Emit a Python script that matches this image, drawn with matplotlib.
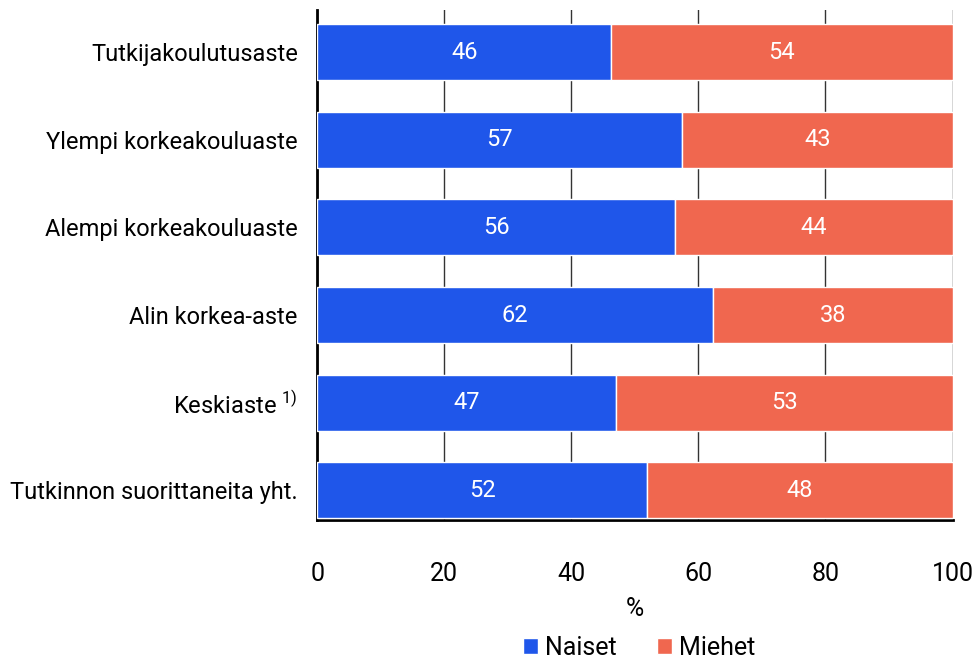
import matplotlib.pyplot as plt

tasot = [
    "Tutkinnon suorittaneita yht.",
    "Keskiaste $^{1)}$",
    "Alin korkea-aste",
    "Alempi korkeakouluaste",
    "Ylempi korkeakouluaste",
    "Tutkijakoulutusaste",
]
naiset = [51.9, 47.1, 62.3, 56.3, 57.4, 46.3]
miehet = [48.1, 52.9, 37.7, 43.7, 42.6, 53.7]

sininen = "#1f56ea"
punainen = "#f0674f"

plt.rcParams["font.family"] = ["Roboto", "DejaVu Sans"]
plt.rcParams["mathtext.fontset"] = "custom"
plt.rcParams["mathtext.rm"] = "Roboto"

fig = plt.figure(figsize=(9.79, 6.61), dpi=100)
ax = fig.add_axes([0.324, 0.213, 0.649, 0.772])

y = range(len(tasot))
ax.barh(y, naiset, height=0.64, color=sininen, edgecolor="white", linewidth=1, label="Naiset", zorder=3)
ax.barh(y, miehet, left=naiset, height=0.64, color=punainen, edgecolor="white", linewidth=1, label="Miehet", zorder=3)

for i in y:
    ax.text(naiset[i] / 2, i, f"{naiset[i]:.0f}", color="white", ha="center", va="center",
            fontsize=17, zorder=4)
    ax.text(naiset[i] + miehet[i] / 2, i, f"{miehet[i]:.0f}", color="white", ha="center", va="center",
            fontsize=17, zorder=4)

ax.set_xlim(0, 100)
ax.set_ylim(-0.34, 5.48)
ax.set_xticks([0, 20, 40, 60, 80, 100])
ax.set_yticks(list(y))
ax.set_yticklabels(tasot, fontsize=17)
ax.tick_params(axis="x", labelsize=18, length=0, pad=30)
ax.tick_params(axis="y", length=0, pad=14)
ax.grid(axis="x", color="#333333", linewidth=1, zorder=0)
for s in ["top", "right"]:
    ax.spines[s].set_visible(False)
ax.spines["left"].set_linewidth(2)
ax.spines["bottom"].set_linewidth(2)
ax.set_xlabel("%", fontsize=18, labelpad=8)

fig.legend(loc="center", bbox_to_anchor=(0.653, 0.02), ncol=2, frameon=False, fontsize=18,
           handlelength=0.6, handleheight=0.6, handletextpad=0.3, columnspacing=1.6)

fig.savefig("out.png", dpi=100)
